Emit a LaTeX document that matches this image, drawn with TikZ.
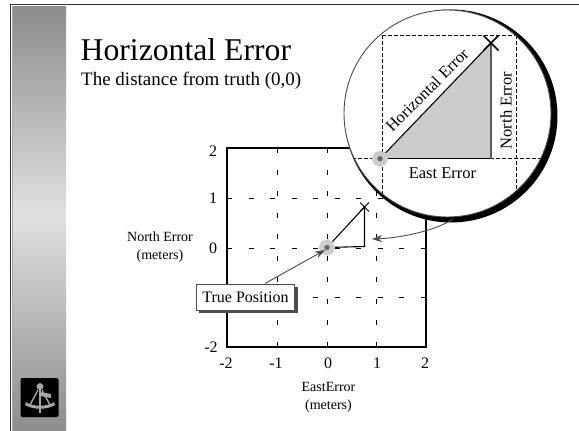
\documentclass[tikz,border=0pt]{standalone}
\usepackage{fontspec}
\setmainfont{Liberation Serif}
\usetikzlibrary{arrows.meta,calc}
\definecolor{linegray}{gray}{0.3}
\tikzset{
  x=1pt,y=-1pt,
  griddash/.style={black,line width=1pt,dash pattern=on 5pt off 16.5pt},
  zoomdash/.style={black,line width=0.9pt,dash pattern=on 3.5pt off 2.5pt},
  ticklabel/.style={font=\fontsize{16}{16}\selectfont,inner sep=0},
  axistitle/.style={font=\fontsize{14}{18}\selectfont,align=center,inner sep=0},
  inlabel/.style={font=\fontsize{16.5}{17}\selectfont,inner sep=0},
  markring/.style={draw=black!20,line width=5pt,fill=black!60},
  tip/.style={-{Stealth[length=10pt,width=7pt]},linegray,line width=0.9pt},
}
\begin{document}
\begin{tikzpicture}
\useasboundingbox (0,0) rectangle (579,431);
\fill[white] (0,0) rectangle (579,431);
% frame and sidebar
\shade[top color=black!45,bottom color=black!12] (13,6) rectangle (66,215);
\shade[top color=black!12,bottom color=black!45] (13,215) rectangle (66,431);
\draw[black!80,line width=1pt] (10.5,431) -- (10.5,4.5) -- (579,4.5);
\fill[black!35] (12,6) -- (12,431) -- (13,431) -- (13,6) -- cycle;
% emblem
\fill[black,rounded corners=2pt] (20.5,378) rectangle (58.5,417);
\begin{scope}[black!35]
  \fill (40,386.5) circle (3.4);
  \fill (26,402) .. controls (33,407) and (47,407) .. (54,402) -- (55,405) .. controls (47,410) and (33,410) .. (25,405) -- cycle;
  \fill (38.7,388) rectangle (41.3,413);
  \fill (40,392) -- (51,394) -- (51,398) -- (40,396) -- cycle;
  \draw[line width=1.4pt] (38,390) -- (30,405);
  \draw[line width=1.4pt] (42,390) -- (50,405);
\end{scope}
% title
\node[anchor=base west,inner sep=0,font=\fontsize{31.7}{32}\selectfont] (title) at (80.5,60) {Horizontal Error};
\node[anchor=base west,inner sep=0,font=\fontsize{19}{19}\selectfont] (subtitle) at (81,85) {The distance from truth (0,0)};
% plot
\foreach \g in {-1,0,1}{
  \draw[griddash] (327+\g*49.75,148) -- (327+\g*49.75,347);
  \draw[griddash] (227,248-\g*49.75) -- (426,248-\g*49.75);
}
\draw[black,line width=1.3pt] (227,148) rectangle (426,347);
\node[ticklabel] (y2) at (213,151) {2};
\node[ticklabel] (y1) at (213,198) {1};
\node[ticklabel] (y0) at (213,248) {0};
\node[ticklabel] (ym2) at (211,347) {-2};
\node[ticklabel] (xm2) at (226,363) {-2};
\node[ticklabel] (xm1) at (276,363) {-1};
\node[ticklabel] (x0) at (328,363) {0};
\node[ticklabel] (x1) at (377,363) {1};
\node[ticklabel] (x2) at (425,363) {2};
\node[axistitle] (ny) at (160,247.5) {North Error\\(meters)};
\node[axistitle] (nx) at (328.5,397.5) {EastError\\(meters)};
% small triangle
\coordinate (s0) at (327,247.5);
\coordinate (sx) at (364.5,207);
\coordinate (sc) at (364.5,246.5);
\draw[black,line width=1.1pt] (s0) -- (sx) -- (sc) -- (s0);
\draw[black,line width=0.9pt] (sx) ++(-4.5,-4.5) -- ++(9,9) (sx) ++(4.5,-4.5) -- ++(-9,9);
\filldraw[markring] (s0) circle (5.5);
% magnifier
\fill[black] (451,116) circle (106.5);
\fill[white,draw=linegray,line width=0.9pt] (447.5,113.5) circle (103.5);
\begin{scope}
  \clip (447.5,113.5) circle (103);
  \draw[zoomdash] (382,35) -- (516,35);
  \draw[zoomdash] (382,35) -- (382,210);
  \draw[zoomdash] (516,35) -- (516,210);
  \draw[zoomdash] (340,158.7) -- (560,158.7);
\end{scope}
\coordinate (m0) at (380,158.7);
\coordinate (mx) at (491,43);
\coordinate (mc) at (491,158.7);
\fill[black!20] (m0) -- (mx) -- (mc) -- cycle;
\draw[black,line width=1.1pt] (m0) -- (mx);
\draw[black,line width=1.1pt] (m0) -- (mc);
\draw[black!65,line width=1.2pt] (mx) -- (mc);
\draw[black,line width=1.5pt] (mx) ++(-7.5,-7.5) -- ++(15,15) (mx) ++(7.5,-7.5) -- ++(-15,15);
\filldraw[markring] (m0) circle (5.5);
\node[inlabel,rotate=45] (he) at (427,90) {Horizontal Error};
\node[inlabel,rotate=90] (ne) at (506,110.5) {North Error};
\node[inlabel] (ee) at (442.5,173.5) {East Error};
% arrows and callout
\coordinate (cstart) at (453,219);
\coordinate (cend) at (372,239);
\draw[tip] (cstart) .. controls (435,231) and (400,238) .. (cend);
\fill[black!70] (199,287) rectangle (298,313);
\node[draw=linegray,fill=white,line width=1pt,minimum width=98pt,minimum height=26pt,inner sep=0,font=\fontsize{16}{16}\selectfont] (tp) at (245.5,297) {True Position};
\draw[tip] (tp.north east) ++(-30,0) coordinate (tstart) -- (325,250);
\end{tikzpicture}
\end{document}
